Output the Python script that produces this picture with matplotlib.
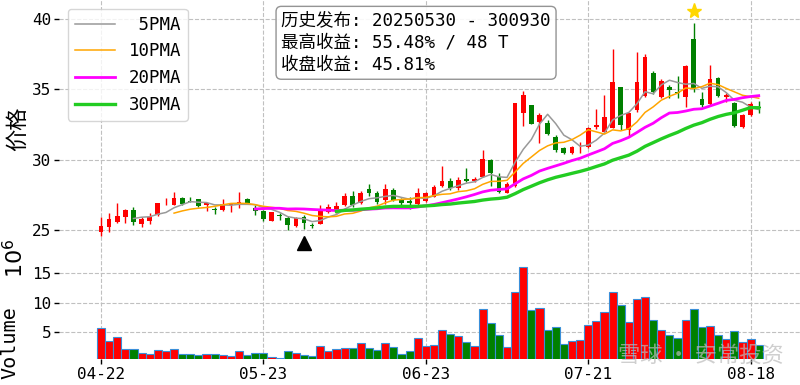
import matplotlib
matplotlib.use("Agg")
import matplotlib.pyplot as plt
import numpy as np
import pandas as pd

plt.rcParams['font.family'] = ['DejaVu Sans Mono', 'Noto Sans CJK SC']
plt.rcParams['axes.unicode_minus'] = False

# 交易日 (2025)
dates = ["04-22", "04-23", "04-24", "04-25", "04-28", "04-29", "04-30",
         "05-06", "05-07", "05-08", "05-09", "05-12", "05-13", "05-14", "05-15", "05-16",
         "05-19", "05-20", "05-21", "05-22", "05-23", "05-26", "05-27", "05-28", "05-29", "05-30",
         "06-03", "06-04", "06-05", "06-06", "06-09", "06-10", "06-11", "06-12", "06-13",
         "06-16", "06-17", "06-18", "06-19", "06-20", "06-23", "06-24", "06-25", "06-26", "06-27",
         "06-30", "07-01", "07-02", "07-03", "07-04", "07-07", "07-08", "07-09", "07-10", "07-11",
         "07-14", "07-15", "07-16", "07-17", "07-18", "07-21", "07-22", "07-23", "07-24", "07-25",
         "07-28", "07-29", "07-30", "07-31", "08-01", "08-04", "08-05", "08-06", "08-07", "08-08",
         "08-11", "08-12", "08-13", "08-14", "08-15", "08-18", "08-19"]

opens = [24.89, 25.19, 25.57, 25.95, 26.43, 25.43, 25.67, 26.07, 26.98, 26.80,
         27.28, 27.09, 27.18, 26.80, 26.50, 26.43, 26.78, 26.80, 27.18, 26.58,
         26.36, 25.67, 26.05, 25.88, 25.29, 25.95, 25.36, 25.40, 26.30, 26.38,
         26.78, 27.42, 26.90, 27.92, 27.61, 27.14, 27.85, 27.14, 27.07, 26.85,
         27.09, 27.37, 28.13, 28.51, 27.97, 28.60, 28.51, 28.80, 29.98, 28.75,
         27.66, 28.10, 33.35, 33.86, 32.70, 32.64, 31.63, 30.80, 30.45, 30.80,
         30.90, 32.30, 31.99, 32.23, 35.14, 32.11, 33.53, 34.53, 36.14, 34.43,
         35.14, 34.83, 34.43, 38.55, 34.29, 33.96, 35.78, 34.43, 34.05, 32.35,
         33.18, 33.72]
highs = [25.90, 26.24, 26.90, 26.47, 26.62, 25.95, 26.19, 26.95, 27.26, 27.71,
         27.37, 27.33, 27.23, 26.95, 26.66, 27.18, 26.95, 27.73, 27.25, 26.80,
         26.45, 26.31, 26.19, 26.00, 25.95, 26.07, 25.52, 26.75, 26.85, 27.02,
         27.61, 27.78, 27.80, 28.27, 27.80, 28.27, 28.00, 27.26, 27.37, 28.01,
         27.73, 28.20, 29.55, 28.68, 28.80, 29.39, 28.80, 30.69, 30.03, 29.03,
         28.44, 34.00, 34.90, 33.90, 33.30, 32.83, 31.76, 30.88, 30.95, 31.27,
         32.30, 33.58, 34.60, 37.90, 35.19, 33.34, 37.68, 37.51, 36.33, 35.71,
         35.31, 35.95, 36.73, 39.74, 34.83, 36.73, 35.90, 34.72, 34.12, 33.25,
         34.12, 34.20]
lows = [24.60, 24.86, 25.50, 25.48, 25.36, 25.19, 25.43, 26.02, 26.76, 26.76,
        26.80, 26.97, 26.66, 26.35, 26.12, 26.33, 26.28, 26.54, 26.83, 26.10,
        25.62, 25.62, 25.71, 25.00, 25.19, 25.07, 25.12, 25.40, 26.20, 26.19,
        26.71, 26.66, 26.85, 27.42, 26.85, 26.85, 27.09, 26.78, 26.47, 26.76,
        27.02, 27.33, 28.08, 27.85, 27.85, 28.44, 28.44, 28.75, 28.13, 27.66,
        27.61, 28.05, 32.40, 32.50, 31.16, 31.75, 30.57, 30.41, 30.40, 30.50,
        30.83, 32.16, 31.99, 32.23, 32.11, 31.64, 33.41, 34.48, 34.67, 34.36,
        34.36, 34.36, 33.77, 34.83, 33.77, 33.89, 34.48, 34.12, 32.30, 32.23,
        33.10, 33.34]
closes = [25.29, 25.79, 26.00, 26.40, 25.60, 25.76, 25.95, 26.90, 27.02, 27.28,
          26.85, 27.02, 26.71, 26.90, 26.45, 26.83, 26.92, 27.02, 26.90, 26.35,
          25.75, 26.31, 25.97, 25.36, 25.83, 25.52, 25.30, 26.35, 26.62, 26.71,
          27.42, 26.78, 27.61, 27.61, 27.02, 27.92, 27.14, 26.90, 26.95, 27.61,
          27.61, 28.09, 28.51, 27.97, 28.56, 28.51, 28.60, 30.03, 29.03, 27.73,
          28.30, 34.00, 34.60, 32.55, 33.17, 31.80, 30.68, 30.50, 30.92, 30.86,
          32.22, 32.46, 33.01, 35.55, 32.46, 33.30, 35.55, 37.28, 34.83, 35.62,
          34.95, 34.75, 36.66, 35.10, 33.89, 35.71, 34.53, 34.60, 32.40, 33.18,
          33.96, 33.65]
# 成交量 (10^6)
volumes = [5.79, 3.47, 4.26, 2.11, 2.11, 1.49, 1.32, 1.94, 1.77, 2.11,
           1.32, 1.32, 1.15, 1.32, 1.32, 1.15, 1.04, 1.77, 1.15, 1.49,
           1.49, 0.81, 0.64, 1.77, 1.49, 1.15, 1.04, 2.73, 1.77, 2.11,
           2.40, 2.40, 3.19, 2.40, 1.94, 3.19, 2.56, 1.32, 1.77, 4.09,
           2.68, 2.85, 5.39, 4.71, 4.37, 3.41, 2.68, 8.90, 6.64, 4.54,
           2.56, 11.77, 16.00, 8.78, 9.06, 5.39, 5.90, 3.02, 3.47, 3.64,
           6.24, 6.97, 8.44, 11.77, 9.68, 6.80, 10.64, 10.93, 7.08, 5.39,
           4.54, 4.09, 7.08, 8.95, 5.90, 6.07, 4.54, 3.81, 5.28, 3.30,
           3.81, 2.85]

code = "300930"
publish_date = "20250530"
max_ret = 55.48
max_days = 48
close_ret = 45.81
ma_windows = [5, 10, 20, 30]
ma_colors = ['#999999', '#ffa500', '#ff00ff', '#22cc22']
ma_widths = [1.1, 1.1, 2.0, 2.4]

df = pd.DataFrame({'date': dates, 'open': opens, 'high': highs,
                   'low': lows, 'close': closes, 'vol': volumes})
x = np.arange(len(df))
up = df['close'] >= df['open']
colors = np.where(up, '#ff0000', '#008000')

fig = plt.figure(figsize=(8, 3.85), dpi=100)
ax1 = fig.add_axes([0.07375, 0.3299, 0.92625, 0.6701])
ax2 = fig.add_axes([0.07375, 0.0675, 0.92625, 0.2623], sharex=ax1)

# K线
body = (df['close'] - df['open']).abs().clip(lower=0.04)
bottom = df[['open', 'close']].min(axis=1)
ax1.vlines(x, df['low'], df['high'], colors=colors, linewidth=1, zorder=2)
ax1.bar(x, body, bottom=bottom, width=0.58, color=colors, linewidth=0, zorder=2)

for n, c, w in zip(ma_windows, ma_colors, ma_widths):
    ma = df['close'].rolling(n).mean()
    ax1.plot(x, ma, color=c, linewidth=w, label=f"{n:>2}PMA", zorder=3)

pub = dates.index(publish_date[4:6] + "-" + publish_date[6:])
top = pub + max_days
ax1.plot(pub, df['low'][pub] * 0.96, marker='^', color='black', markersize=10, zorder=4)
ax1.plot(top, df['high'][top] * 1.02, marker='*', color='#ffd700', markersize=11, zorder=4)

info = (f"历史发布: {publish_date} - {code}\n"
        f"最高收益: {max_ret:.2f}% / {max_days} T\n"
        f"收盘收益: {close_ret:.2f}%")
ax1.text(0.300, 0.955, info, transform=ax1.transAxes, va='top', ha='left', fontsize=12.6,
         linespacing=1.3,
         bbox=dict(boxstyle='round,pad=0.3', fc='white', ec='#888888', alpha=0.9), zorder=5)

ax1.legend(loc='upper left', fontsize=12.5, handlelength=2.3, framealpha=0.8)
ax1.set_ylim(23.01, 41.35)
ax1.set_yticks([25, 30, 35, 40])
ax1.set_ylabel("价格", fontsize=16)
ax1.yaxis.set_label_coords(-0.042, 0.5)
ax1.tick_params(axis='x', bottom=False, labelbottom=False)

# 成交量
ax2.bar(x, df['vol'], width=1.0, color=colors, edgecolor='#3a8fd9', linewidth=0.8, zorder=2)
ax2.set_ylim(0.47, 17.59)
ax2.set_yticks([5, 10, 15])
ax2.set_ylabel("Volume", fontsize=14.5)
ax2.yaxis.set_label_coords(-0.053, 0.16)
fig.text(0.018, 0.33, r"$10^6$", rotation=90, fontsize=16, ha='center', va='center')

ticks = list(range(0, len(dates), 20))
ax2.set_xticks(ticks)
ax2.set_xticklabels([dates[i] for i in ticks])
ax1.set_xlim(-5.17, 86.08)

for ax in (ax1, ax2):
    ax.grid(True, linestyle='--', color='#c0c0c0', linewidth=0.8)
    ax.set_axisbelow(True)
    for s in ax.spines.values():
        s.set_visible(False)
    ax.tick_params(labelsize=11.5, length=3.5, width=1, pad=2)

fig.text(0.772, 0.06, "雪球 · 安常投资", fontsize=16, color='#bbbbbb', alpha=0.7,
         family=['Noto Sans CJK SC'])

fig.savefig("out.png", dpi=100)
